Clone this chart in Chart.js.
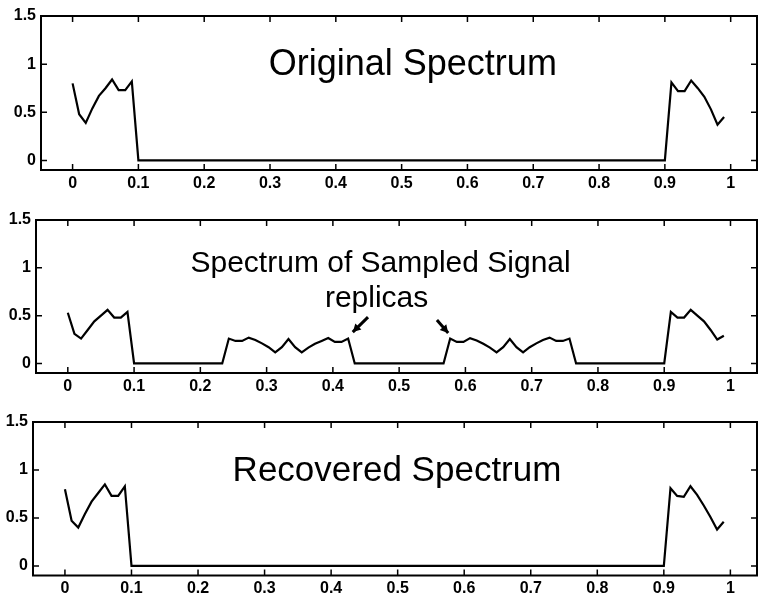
<!DOCTYPE html>
<html>
<head>
<meta charset="utf-8">
<script src="https://cdn.jsdelivr.net/npm/chart.js@4.4.0/dist/chart.umd.min.js"></script>
<style>
    html, body { margin: 0; padding: 0; background: #fff; overflow: hidden; }
    canvas { position: absolute; left: 0; }
</style>
</head>
<body>
<canvas id="origChart" width="758" height="200" style="top:0px"></canvas>
<canvas id="sampChart" width="758" height="207" style="top:195px"></canvas>
<canvas id="recChart" width="758" height="202" style="top:395px"></canvas>
<script>
// Tick labels (shared by all three panels)
const xTicks = [0, 0.1, 0.2, 0.3, 0.4, 0.5, 0.6, 0.7, 0.8, 0.9, 1];
const yTicks = [0, 0.5, 1, 1.5];

// Original spectrum (the flat zero part only needs its end points)
const origFreq = [0, 0.01, 0.02, 0.03, 0.04, 0.05, 0.06, 0.07, 0.08, 0.09, 0.10,
                  0.90, 0.91, 0.92, 0.93, 0.94, 0.95, 0.96, 0.97, 0.98, 0.99];
const origMag  = [0.80, 0.48, 0.39, 0.54, 0.67, 0.75, 0.84, 0.73, 0.73, 0.82, 0,
                  0, 0.81, 0.72, 0.72, 0.83, 0.75, 0.66, 0.53, 0.37, 0.45];

// Spectrum of sampled signal: baseband + two replicas + mirrored baseband
const sampFreq = [0, 0.01, 0.02, 0.03, 0.04, 0.05, 0.06, 0.07, 0.08, 0.09, 0.10,
                  0.233, 0.243, 0.253, 0.263, 0.273, 0.283, 0.293, 0.303, 0.313, 0.323, 0.333,
                  0.343, 0.353, 0.363, 0.373, 0.383, 0.393, 0.403, 0.413, 0.423, 0.433,
                  0.567, 0.577, 0.587, 0.597, 0.607, 0.617, 0.627, 0.637, 0.647, 0.657, 0.667,
                  0.677, 0.687, 0.697, 0.707, 0.717, 0.727, 0.737, 0.747, 0.757, 0.767,
                  0.90, 0.91, 0.92, 0.93, 0.94, 0.95, 0.96, 0.97, 0.98, 0.99];
const sampMag  = [0.53, 0.31, 0.26, 0.35, 0.44, 0.50, 0.56, 0.48, 0.48, 0.54, 0,
                  0, 0.26, 0.235, 0.235, 0.27, 0.245, 0.21, 0.17, 0.115, 0.17, 0.255,
                  0.17, 0.115, 0.165, 0.205, 0.235, 0.265, 0.225, 0.225, 0.26, 0,
                  0, 0.26, 0.225, 0.225, 0.265, 0.24, 0.205, 0.165, 0.115, 0.17, 0.255,
                  0.17, 0.115, 0.17, 0.21, 0.245, 0.27, 0.235, 0.235, 0.26, 0,
                  0, 0.54, 0.48, 0.48, 0.56, 0.50, 0.44, 0.35, 0.25, 0.29];

// Recovered spectrum
const recFreq = origFreq;
const recMag  = [0.80, 0.47, 0.40, 0.54, 0.67, 0.76, 0.85, 0.73, 0.73, 0.83, 0,
                 0, 0.81, 0.73, 0.72, 0.83, 0.74, 0.63, 0.51, 0.38, 0.46];

function makePanel(canvasId, freq, mag, box, notes, arrows) {
    const ctx = document.getElementById(canvasId).getContext('2d');

    // MATLAB style box with inward ticks, titles and arrows
    const boxPlugin = {
        id: 'matlabBox_' + canvasId,
        afterDraw(chart) {
            const c = chart.ctx;
            const a = chart.chartArea;
            const x = chart.scales.x, y = chart.scales.y;
            c.save();
            c.strokeStyle = '#000';
            c.lineWidth = 2;
            c.strokeRect(a.left, a.top, a.right - a.left, a.bottom - a.top);
            c.lineWidth = 1.5;
            c.beginPath();
            xTicks.forEach(v => {
                const px = x.getPixelForValue(v);
                c.moveTo(px, a.bottom); c.lineTo(px, a.bottom - 6);
                c.moveTo(px, a.top); c.lineTo(px, a.top + 6);
            });
            yTicks.forEach(v => {
                const py = y.getPixelForValue(v);
                c.moveTo(a.left, py); c.lineTo(a.left + 6, py);
                c.moveTo(a.right, py); c.lineTo(a.right - 6, py);
            });
            c.stroke();

            c.fillStyle = '#000';
            c.textAlign = 'center';
            c.textBaseline = 'alphabetic';
            notes.forEach(n => {
                c.font = n.size + 'px "Liberation Sans", Arial, sans-serif';
                c.fillText(n.text, x.getPixelForValue(n.x), y.getPixelForValue(n.y));
            });

            arrows.forEach(ar => {
                const x0 = x.getPixelForValue(ar.from[0]), y0 = y.getPixelForValue(ar.from[1]);
                const x1 = x.getPixelForValue(ar.to[0]), y1 = y.getPixelForValue(ar.to[1]);
                const ang = Math.atan2(y1 - y0, x1 - x0);
                c.lineWidth = 3;
                c.beginPath();
                c.moveTo(x0, y0); c.lineTo(x1, y1);
                c.stroke();
                c.beginPath();
                c.moveTo(x1, y1);
                c.lineTo(x1 - 9 * Math.cos(ang - 0.5), y1 - 9 * Math.sin(ang - 0.5));
                c.lineTo(x1 - 9 * Math.cos(ang + 0.5), y1 - 9 * Math.sin(ang + 0.5));
                c.closePath();
                c.fill();
            });
            c.restore();
        }
    };

    const tickFont = { family: '"Liberation Sans", Arial, sans-serif', size: 16, weight: 'bold' };

    return new Chart(ctx, {
        type: 'line',
        data: {
            datasets: [{
                data: freq.map((f, i) => ({ x: f, y: mag[i] })),
                borderColor: '#000',
                borderWidth: 2.2,
                pointRadius: 0,
                tension: 0,
                fill: false
            }]
        },
        options: {
            responsive: false,
            animation: false,
            devicePixelRatio: 1,
            layout: { padding: { top: box.top, right: box.right, left: 0, bottom: 0 } },
            plugins: { legend: { display: false }, tooltip: { enabled: false } },
            scales: {
                x: {
                    type: 'linear',
                    min: -0.048,
                    max: 1.04,
                    afterBuildTicks: s => { s.ticks = xTicks.map(v => ({ value: v })); },
                    afterFit: s => { s.height = box.bottom; },
                    grid: { display: false, drawTicks: false },
                    border: { display: false },
                    ticks: { color: '#000', font: tickFont, padding: box.xPad, autoSkip: false,
                             maxRotation: 0, callback: v => String(v) }
                },
                y: {
                    min: -0.1,
                    max: 1.5,
                    afterBuildTicks: s => { s.ticks = yTicks.map(v => ({ value: v })); },
                    afterFit: s => { s.width = box.left; },
                    grid: { display: false, drawTicks: false },
                    border: { display: false },
                    ticks: { color: '#000', font: tickFont, padding: 5, callback: v => String(v) }
                }
            }
        },
        plugins: [boxPlugin]
    });
}

makePanel('origChart', origFreq, origMag,
    { top: 16, right: 1, left: 41, bottom: 30, xPad: 4 },
    [{ text: 'Original Spectrum', x: 0.517, y: 0.887, size: 36 }],
    []);

makePanel('sampChart', sampFreq, sampMag,
    { top: 25, right: 1, left: 36, bottom: 29, xPad: 4 },
    [{ text: 'Spectrum of Sampled Signal', x: 0.472, y: 0.956, size: 30 },
     { text: 'replicas', x: 0.466, y: 0.59, size: 30 }],
    [{ from: [0.453, 0.485], to: [0.430, 0.328] },
     { from: [0.557, 0.454], to: [0.574, 0.318] }]);

makePanel('recChart', recFreq, recMag,
    { top: 27, right: 1, left: 33, bottom: 21.5, xPad: 3 },
    [{ text: 'Recovered Spectrum', x: 0.499, y: 0.885, size: 35 }],
    []);
</script>
</body>
</html>
